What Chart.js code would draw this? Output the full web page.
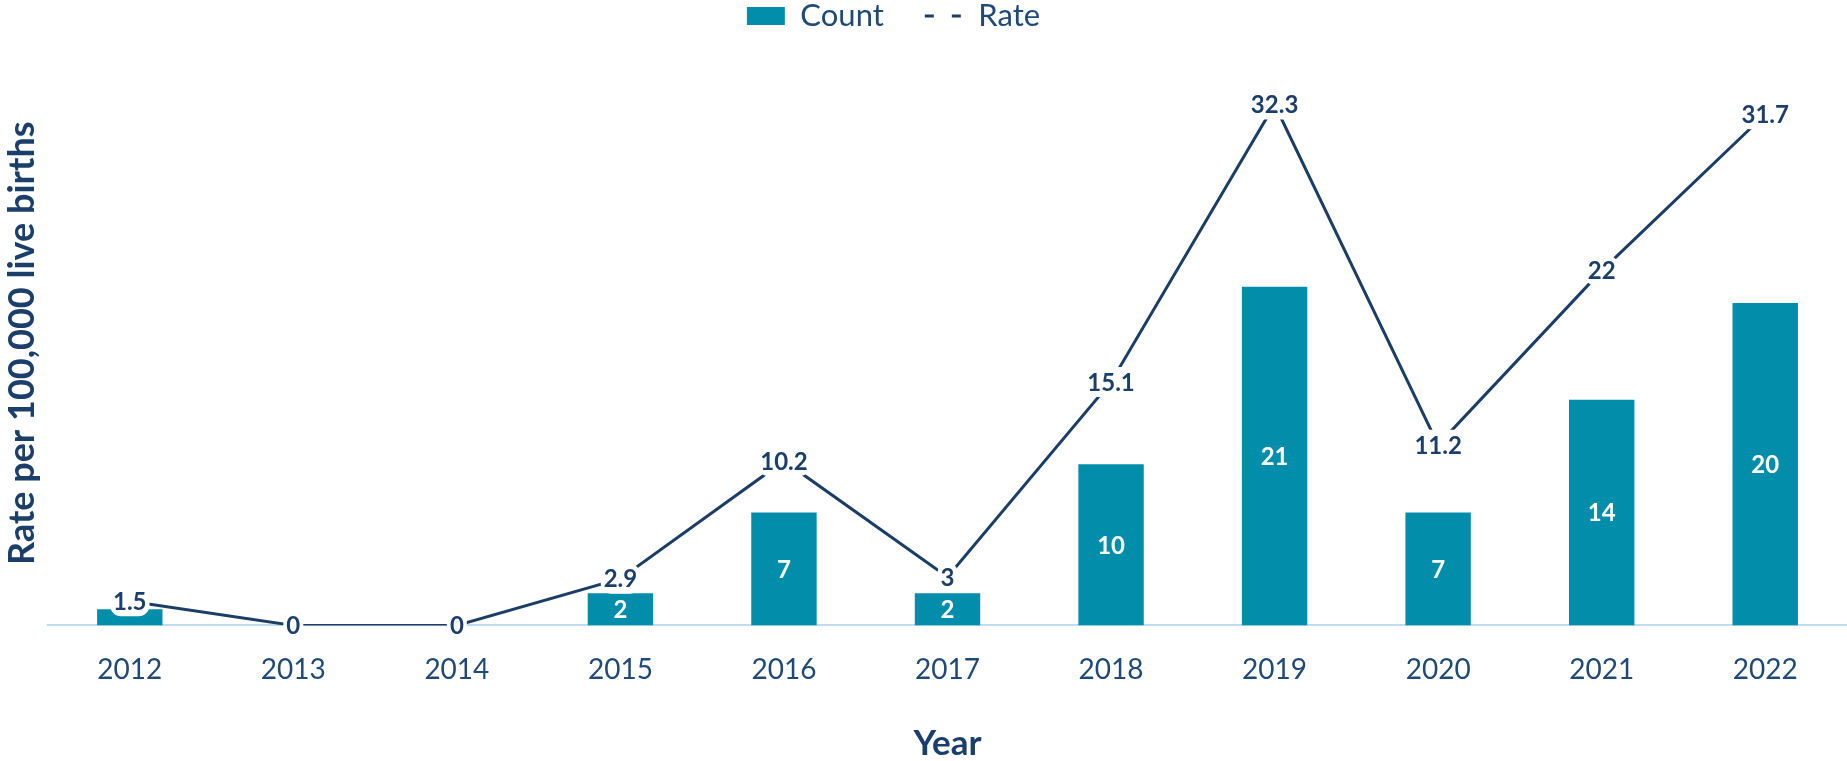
<!DOCTYPE html>
<html><head><meta charset="utf-8">
<script src="https://cdn.jsdelivr.net/npm/chart.js@4/dist/chart.umd.min.js"></script>
<style>html,body{margin:0;padding:0;background:#fff}#wrap{width:1847px;height:761px;position:relative}</style>
</head><body><div id="wrap"><canvas id="c"></canvas></div>
<script>
const years = ['2012','2013','2014','2015','2016','2017','2018','2019','2020','2021','2022'];
const counts = [1, 0, 0, 2, 7, 2, 10, 21, 7, 14, 20];
const rates = [1.5, 0, 0, 2.9, 10.2, 3, 15.1, 32.3, 11.2, 22, 31.7];
const yMax = 35;

const BAR = '#028eab';
const LINE = '#1b3d66';
const TXT = '#1f4a78';
const TITLE = '#1b3f6a';
const FONT = 'Lato';
const LEG_PAD = 41;

const legendSpacer = {
  id: 'legendSpacer',
  beforeInit(chart) {
    const lg = chart.legend;
    const fit = lg.fit;
    lg.fit = function () { fit.call(lg); this.height = 61; };
  },
  afterLayout(chart) {
    const lg = chart.legend;
    lg.left -= 31; lg.right -= 31;
    lg.top = -15 - (LEG_PAD - 17) - 1.5;
  }
};

const labelPlugin = {
  id: 'valueLabels',
  afterDatasetsDraw(chart) {
    const ctx = chart.ctx;
    const barMeta = chart.getDatasetMeta(0);
    const lineMeta = chart.getDatasetMeta(1);
    ctx.save();
    ctx.font = 'bold 24px ' + FONT;
    ctx.textAlign = 'center';
    ctx.textBaseline = 'middle';
    barMeta.data.forEach((bar, i) => {
      const v = counts[i];
      if (!v) return;
      const h = bar.base - bar.y;
      if (h < 24) return;
      ctx.fillStyle = '#ffffff';
      ctx.fillText(String(v), bar.x, (bar.y + bar.base) / 2 + 1);
    });
    lineMeta.data.forEach((pt, i) => {
      const t = String(rates[i]);
      const w = ctx.measureText(t).width + 6, h = 30;
      ctx.fillStyle = '#ffffff';
      ctx.beginPath();
      ctx.roundRect(pt.x - w / 2, pt.y - h / 2, w, h, 11);
      ctx.fill();
      ctx.fillStyle = TITLE;
      ctx.fillText(t, pt.x, pt.y + 1);
    });
    ctx.restore();
  }
};

function build() {
  new Chart(document.getElementById('c'), {
    type: 'bar',
    data: {
      labels: years,
      datasets: [
        { type: 'bar', label: 'Count', data: counts, backgroundColor: BAR, borderWidth: 0,
          categoryPercentage: 0.8, barPercentage: 0.5, order: 2 },
        { type: 'line', label: 'Rate', data: rates, borderColor: LINE, borderWidth: 3,
          pointRadius: 0, tension: 0, fill: false, order: 1 }
      ]
    },
    options: {
      responsive: true,
      maintainAspectRatio: false,
      animation: false,
      layout: { padding: { left: 2, right: 0, top: 0, bottom: 0 } },
      plugins: {
        tooltip: { enabled: false },
        legend: {
          position: 'top',
          labels: {
            font: { family: FONT, size: 31 },
            color: TXT,
            usePointStyle: true,
            pointStyleWidth: 38,
            boxHeight: 18,
            padding: LEG_PAD,
            generateLabels() {
              return [
                { text: 'Count', fillStyle: BAR, strokeStyle: BAR, lineWidth: 0, pointStyle: 'rect',
                  datasetIndex: 0, hidden: false, fontColor: TXT },
                { text: 'Rate', fillStyle: 'rgba(0,0,0,0)', strokeStyle: LINE, lineWidth: 3,
                  lineDash: [9, 18], pointStyle: 'line', datasetIndex: 1, hidden: false, fontColor: TXT }
              ];
            }
          }
        }
      },
      scales: {
        x: {
          grid: { display: false },
          border: { display: true, color: '#bfdcf2', width: 2 },
          ticks: { font: { family: FONT, size: 28 }, color: TXT, padding: 20 },
          title: { display: true, text: 'Year', color: TITLE,
                   font: { family: FONT, size: 35, weight: 'bold', lineHeight: 1.0 }, padding: { top: 19, bottom: 0 } }
        },
        y: {
          min: 0, max: yMax,
          grid: { display: false },
          border: { display: false },
          ticks: { display: false },
          title: { display: true, text: 'Rate per 100,000 live births', color: TITLE,
                   font: { family: FONT, size: 36, weight: 'bold', lineHeight: 1.0 }, padding: { top: 2, bottom: 0 } }
        }
      }
    },
    plugins: [legendSpacer, labelPlugin]
  });
}
Promise.all([
  document.fonts.load('28px Lato'),
  document.fonts.load('31px Lato'),
  document.fonts.load('bold 36px Lato'),
  document.fonts.load('bold 24px Lato')
]).then(build, build);
</script>
</body></html>
